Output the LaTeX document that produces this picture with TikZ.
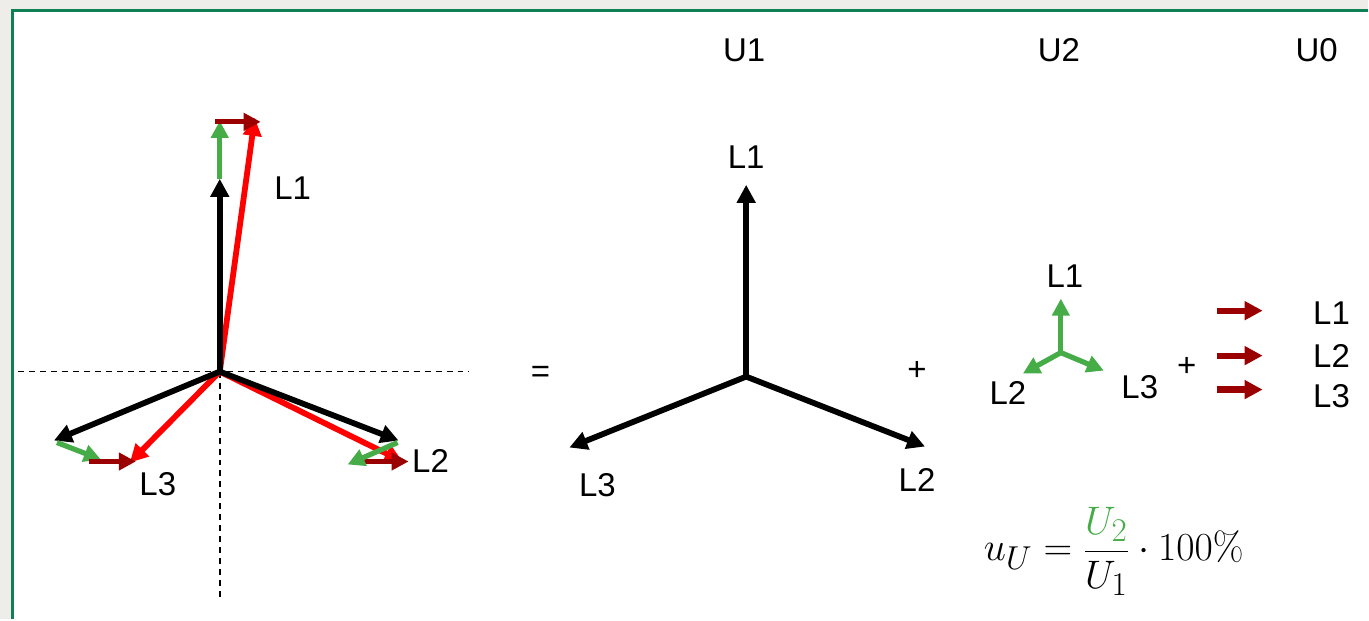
\documentclass[tikz,border=0pt]{standalone}
\usepackage[no-math]{fontspec}
\usepackage{graphicx}
\setmainfont{Liberation Sans}
\usetikzlibrary{arrows.meta}
\definecolor{myred}{RGB}{255,0,0}
\definecolor{dred}{RGB}{155,0,0}
\definecolor{mygreen}{RGB}{70,172,72}
\definecolor{framegreen}{RGB}{14,128,84}
\definecolor{bggray}{RGB}{238,237,233}
\begin{document}
\begin{tikzpicture}[x=1pt,y=-1pt,
  vec/.style={line width=5.8pt,-{Triangle[length=18pt,width=18pt]}},
  gvec/.style={line width=5.2pt,-{Triangle[length=17pt,width=17pt]}},
  zvec/.style={line width=6.2pt,-{Triangle[length=18pt,width=18pt]}},
  lbl/.style={font=\fontsize{33}{38}\selectfont, inner sep=0pt},
  axis/.style={line width=1.5pt, dash pattern=on 6pt off 5pt}]
% background and frame
\fill[bggray] (0,0) rectangle (1369,620);
\fill[white] (12,10) rectangle (1369,620);
\draw[framegreen, line width=3pt] (13,620) -- (13,11) -- (1369,11);
\useasboundingbox (0,0) rectangle (1369,620);

% ---------- left diagram ----------
\coordinate (O1) at (220,372);
\coordinate (hl) at (18,372);
\coordinate (hr) at (470,372);
\coordinate (vb) at (220,600);
\draw[axis] (hl) -- (hr);
\draw[axis] (O1) -- (vb);

\coordinate (A1) at (220,179);
\coordinate (A2) at (399,441);
\coordinate (A3) at (54,441);
\coordinate (G1s) at (220,179);
\coordinate (G1) at (220,121);
\coordinate (G2s) at (398,443);
\coordinate (G2) at (348,465);
\coordinate (G3s) at (57,443);
\coordinate (G3) at (101,460);
\coordinate (D1s) at (215,122);
\coordinate (D1) at (261,122);
\coordinate (D2s) at (361,462);
\coordinate (D2) at (409,462);
\coordinate (D3s) at (89,462);
\coordinate (D3) at (136,462);
\coordinate (R1) at (255,118);
\coordinate (R2) at (403,462);
\coordinate (R3) at (130,463);

\draw[vec, myred] (O1) -- (R1);
\draw[vec, myred] (O1) -- (R2);
\draw[vec, myred] (O1) -- (R3);
\draw[vec] (O1) -- (A1);
\draw[vec] (O1) -- (A2);
\draw[vec] (O1) -- (A3);
\draw[gvec, mygreen] (G1s) -- (G1);
\draw[gvec, mygreen] (G3s) -- (G3);
\draw[gvec, dred] (D1s) -- (D1);
\draw[gvec, dred] (D2s) -- (D2);
\draw[gvec, dred] (D3s) -- (D3);
\draw[gvec, mygreen] (G2s) -- (G2);

\node[lbl] (l1a) at (293,188) {L1};
\node[lbl] (l2a) at (431,461) {L2};
\node[lbl] (l3a) at (158,485) {L3};

% ---------- titles ----------
\node[lbl] (u1) at (745,50) {U1};
\node[lbl] (u2) at (1060,50) {U2};
\node[lbl] (u0) at (1318,50) {U0};

% ---------- middle diagram ----------
\node[lbl] (eq) at (541,375) {=};
\coordinate (O2) at (747,377);
\coordinate (B1) at (747,185);
\coordinate (B2) at (926,447);
\coordinate (B3) at (570,448);
\draw[vec] (O2) -- (B1);
\draw[vec] (O2) -- (B2);
\draw[vec] (O2) -- (B3);
\node[lbl] (l1b) at (747,157) {L1};
\node[lbl] (l2b) at (918,481) {L2};
\node[lbl] (l3b) at (598,486) {L3};
\node[lbl] (plus1) at (918,371) {+};

% ---------- right: negative sequence ----------
\coordinate (O3) at (1062,353);
\coordinate (C1) at (1062,299);
\coordinate (C2) at (1024,374);
\coordinate (C3) at (1105,371);
\draw[gvec, mygreen] (O3) -- (C1);
\draw[gvec, mygreen] (O3) -- (C2);
\draw[gvec, mygreen] (O3) -- (C3);
\node[lbl] (l1c) at (1066,276) {L1};
\node[lbl] (l2c) at (1009,393) {L2};
\node[lbl] (l3c) at (1141,388) {L3};
\node[lbl] (plus2) at (1188,367) {+};

% ---------- right: zero sequence ----------
\coordinate (Z1s) at (1218,311);
\coordinate (Z1) at (1264,311);
\coordinate (Z2s) at (1218,356);
\coordinate (Z2) at (1264,356);
\coordinate (Z3s) at (1218,390);
\coordinate (Z3) at (1264,390);
\draw[zvec, dred] (Z1s) -- (Z1);
\draw[zvec, dred] (Z2s) -- (Z2);
\draw[zvec, dred] (Z3s) -- (Z3);
\node[lbl] (l1d) at (1333,313) {L1};
\node[lbl] (l2d) at (1333,356) {L2};
\node[lbl] (l3d) at (1333,397) {L3};

% ---------- formula ----------
\node[inner sep=0pt, font=\fontsize{24.88}{30}\selectfont] (form) at (1115,552)
  {\scalebox{1.6}{$\displaystyle u_U=\frac{\color{mygreen}U_2}{U_1}\cdot 100\%$}};
\end{tikzpicture}
\end{document}
